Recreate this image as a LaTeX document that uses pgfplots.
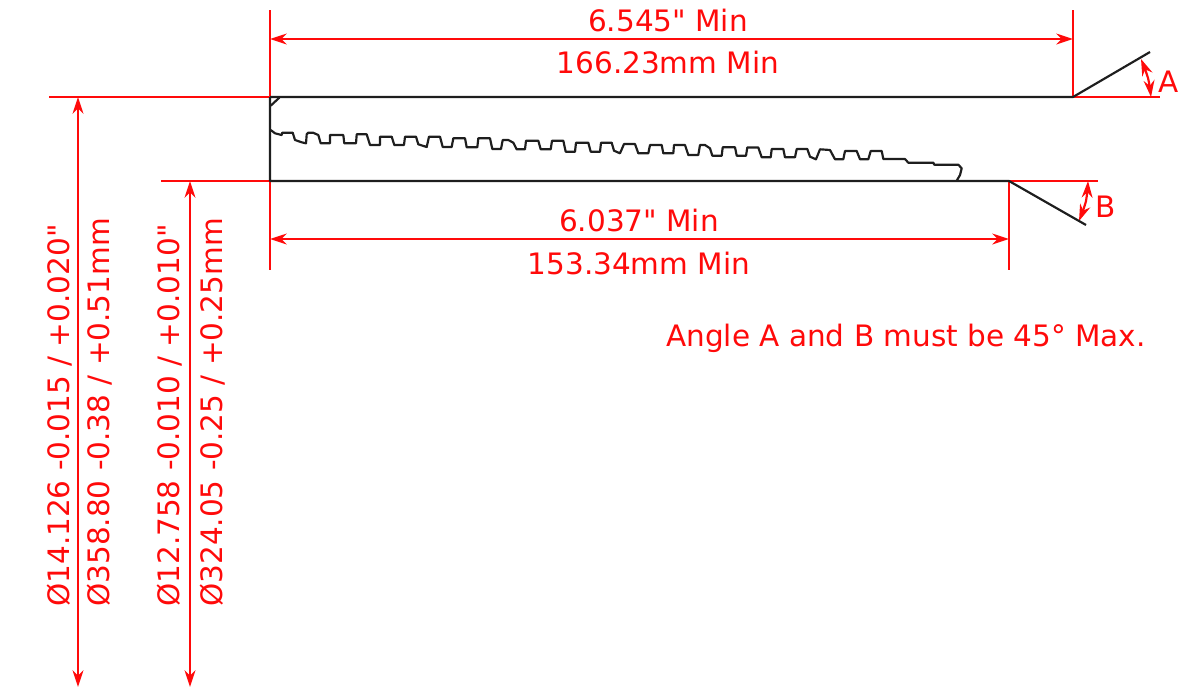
\documentclass[border=0pt]{standalone}
\usepackage{pgfplots}
\pgfplotsset{compat=1.18}
\usepackage{fontspec}
\newfontfamily\dimfont{DejaVu Sans}
\usetikzlibrary{arrows.meta}
\definecolor{dimred}{RGB}{255,10,10}
\definecolor{part}{RGB}{30,30,30}
\tikzset{
  dim/.style={color=dimred, line width=1.3pt},
  arr/.style={dim, {Stealth[length=10pt,width=6.5pt]}-{Stealth[length=10pt,width=6.5pt]}},
  prt/.style={color=part, line width=1.3pt, line join=round},
  txt/.style={text=dimred, font=\dimfont\fontsize{17.7}{20}\selectfont, inner sep=0pt},
}
\begin{document}
\begin{tikzpicture}
\begin{axis}[
  scale only axis, width=719.4pt, height=414pt,
  xmin=0, xmax=1199, ymin=0, ymax=690, y dir=reverse,
  hide axis, clip=false, no markers,
]
% keeps the page at the full frame
\addplot[draw=none] coordinates {(0,0) (1199,690)};
% extension lines
\addplot[dim] coordinates {(270,10) (270,270)};
\addplot[dim] coordinates {(1073,10) (1073,97)};
\addplot[dim] coordinates {(1009,181) (1009,270)};
\addplot[dim] coordinates {(49,97) (270,97)};
\addplot[dim] coordinates {(161,181) (270,181)};
\addplot[dim] coordinates {(1073,97) (1160,97)};
\addplot[dim] coordinates {(1009,181) (1098,181)};
% dimension arrows
\addplot[arr] coordinates {(270,39) (1073,39)};
\addplot[arr] coordinates {(270,239) (1009,239)};
\addplot[arr] coordinates {(78,97) (78,687)};
\addplot[arr] coordinates {(190,181) (190,687)};
% angle arrows
\addplot[arr, smooth] coordinates {(1141,59) (1148,78) (1151,97)};
\addplot[arr, smooth] coordinates {(1088,181) (1086,201) (1079,221)};
% part outline
\addplot[prt] coordinates {(270,97) (1073,97) (1150,52)};
\addplot[prt] coordinates {(270,97) (270,181) (1009,181) (1086,225)};
\addplot[prt] coordinates {(270.7,105.7) (279.3,97.7)};
% thread profile
\addplot[prt] coordinates {
(270.7,130) (275,133.3) (281.7,135) (282.3,132.7) (292.7,132.7) (295,140) (301.7,142.3) (306,143.3)
(306.7,134.3) (308.3,132.7) (313,132.7) (318.3,135) (320.7,143.3) (330,143.3) (330,135) (343.3,135)
(344.3,143.3) (356,143.3) (356.7,134.3) (366.7,134.3) (370,145) (380,145) (380,136.7) (391.7,136.7)
(394.3,145) (404,145) (405,136.7) (416,136.7) (418.3,144.3) (426.7,147) (429,136.7) (440,136.7)
(442.7,147) (451.7,147) (453.3,138.3) (465,138.3) (466.7,147.3) (477.3,147.3) (478.3,138.3) (490,138.3)
(492.3,149) (501,149) (502.7,140) (508.3,140) (513.3,142.7) (516.7,149.3) (525,149.3) (526,140.7)
(538.3,140.7) (540.7,149.3) (550.7,149.3) (552,140.7) (563.3,140.7) (565.7,151.7) (575,151.7) (576,142.7)
(588.3,142.7) (590.7,151.7) (600,151.7) (601,142.7) (611.7,142.7) (614,150.7) (620,153.3) (624,144)
(635,144) (638.3,153.3) (648.3,153.3) (650,145) (661.7,145) (663.3,153.3) (673.3,153.3) (674,145)
(685,145) (688.3,155) (698.3,155) (700,145) (705,145) (710,148.3) (712.3,155.7) (721.7,155.7)
(722.7,147.3) (735,147.3) (736.7,155.7) (746,155.7) (747.3,147.5) (758.3,147.5) (761.7,157.3) (770.7,157.3)
(771.7,149) (783.3,149) (785,157.3) (795,157.3) (796.7,149) (807.3,149) (810,156.7) (816,159.3)
(820,149.3) (830,150) (835,159.3) (843.3,159.3) (845,151) (856.7,151) (860,159.3) (868.3,159.3)
(870.7,151) (881.7,151) (883.3,159) (905,159) (908.3,162.7) (933.3,162.7) (934.3,164.7) (958.3,164.7)
(961.7,168.3) (960,175) (956.7,180.7)
};
% labels
\node[txt] at (axis cs:668,20) {6.545" Min};
\node[txt] at (axis cs:668,62) {166.23mm Min};
\node[txt] at (axis cs:639,220) {6.037" Min};
\node[txt] at (axis cs:639,263) {153.34mm Min};
\node[txt, anchor=west] at (axis cs:666,338) {Angle A and B must be 45° Max.};
\node[txt] at (axis cs:1169,82) {A};
\node[txt] at (axis cs:1106,207) {B};
\node[txt, rotate=90, anchor=west] at (axis cs:60,607) {Ø14.126 -0.015 / +0.020"};
\node[txt, rotate=90, anchor=west] at (axis cs:100,607) {Ø358.80 -0.38 / +0.51mm};
\node[txt, rotate=90, anchor=west] at (axis cs:170,607) {Ø12.758 -0.010 / +0.010"};
\node[txt, rotate=90, anchor=west] at (axis cs:213,607) {Ø324.05 -0.25 / +0.25mm};
\end{axis}
\end{tikzpicture}
\end{document}
